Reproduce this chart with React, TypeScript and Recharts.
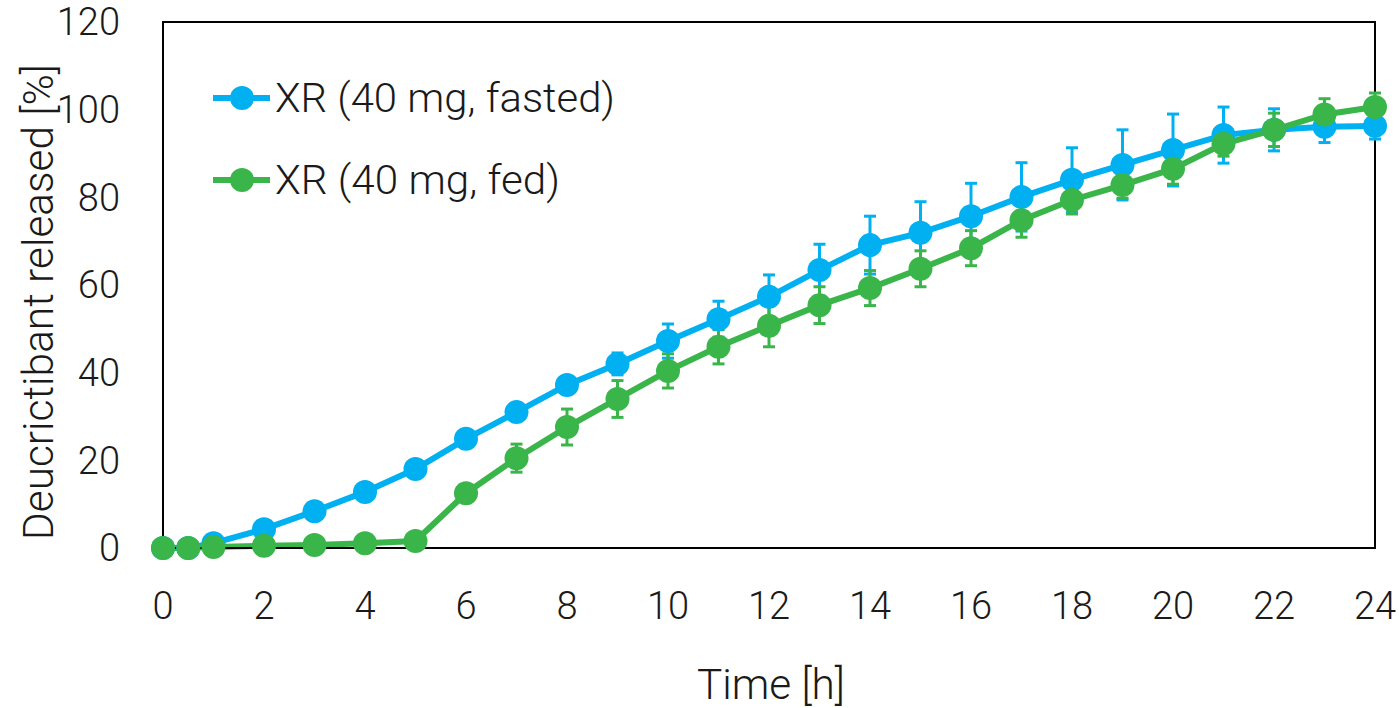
import React from 'react';
import { LineChart, Line, XAxis, YAxis, ErrorBar, Legend, ReferenceArea } from 'recharts';

const times = [0, 0.5, 1, 2, 3, 4, 5, 6, 7, 8, 9, 10, 11, 12, 13, 14, 15, 16, 17, 18, 19, 20, 21, 22, 23, 24];
const fasted = [0, 0, 1.1, 4.3, 8.4, 12.8, 18.0, 24.9, 31.0, 37.2, 42.0, 47.2, 52.2, 57.3, 63.4, 69.1, 71.9, 75.7, 80.1, 84.0, 87.4, 90.8, 94.2, 95.4, 96.1, 96.3];
const fastedErr = [0, 0, 0.3, 0.5, 0.6, 0.8, 1.0, 1.2, 1.4, 1.6, 2.5, 3.9, 4.1, 5.0, 5.9, 6.6, 7.1, 7.5, 7.8, 7.3, 8.0, 8.2, 6.4, 4.8, 3.6, 3.0];
const fed = [0, 0, 0.2, 0.5, 0.7, 1.1, 1.6, 12.5, 20.5, 27.6, 34.0, 40.4, 45.9, 50.7, 55.4, 59.3, 63.7, 68.4, 74.8, 79.4, 82.8, 86.5, 92.2, 95.4, 98.9, 100.6];
const fedErr = [0, 0, 0.1, 0.2, 0.3, 0.4, 0.5, 1.0, 3.2, 4.1, 4.2, 3.9, 3.9, 4.8, 4.2, 4.0, 4.1, 4.0, 3.9, 3.2, 3.0, 3.5, 2.8, 3.8, 3.6, 3.2];
const xTicks = [0, 2, 4, 6, 8, 10, 12, 14, 16, 18, 20, 22, 24];
const yTicks = [0, 20, 40, 60, 80, 100, 120];
const seriesNames = ['XR (40 mg, fasted)', 'XR (40 mg, fed)'];
const colors = ['#00B0F0', '#3AB54A'];

const data = times.map((t, i) => ({
  t,
  fasted: fasted[i],
  fastedErr: fastedErr[i],
  fed: fed[i],
  fedErr: fedErr[i],
}));

const FONT = 'Roboto, "Noto Sans", sans-serif';

const LegendContent = () => (
  <svg width={460} height={170} style={{ display: 'block' }}>
    {seriesNames.map((name, i) => {
      const y = 28 + i * 82;
      return (
        <g key={name}>
          <line x1={3} x2={60} y1={y} y2={y} stroke={colors[i]} strokeWidth={6} />
          <circle cx={32} cy={y} r={12} fill={colors[i]} />
          <text
            x={65}
            y={y}
            dominantBaseline="central"
            fontFamily={FONT}
            fontWeight={300}
            fontSize={40}
            fill="#1a1a1a"
            textLength={i === 0 ? 340 : 285}
            lengthAdjust="spacingAndGlyphs"
          >
            {name}
          </text>
        </g>
      );
    })}
  </svg>
);

export default function App() {
  return (
    <div style={{ position: 'absolute', left: 0, top: 0, width: 1399, height: 708, background: '#fff' }}>
      <LineChart
        width={1399}
        height={708}
        data={data}
        margin={{ top: 22, right: 24, bottom: 0, left: 0 }}
      >
        <XAxis
          dataKey="t"
          type="number"
          domain={[0, 24]}
          ticks={xTicks}
          interval={0}
          height={160}
          axisLine={{ stroke: '#000', strokeWidth: 2 }}
          tickLine={false}
          tickSize={0}
          tickMargin={44}
          tick={{ fontFamily: FONT, fontWeight: 300, fontSize: 38, fill: '#1a1a1a' }}
          label={{
            content: () => (
              <text
                x={771}
                y={684}
                textAnchor="middle"
                dominantBaseline="central"
                fontFamily={FONT}
                fontWeight={300}
                fontSize={42}
                fill="#1a1a1a"
                textLength={148}
                lengthAdjust="spacingAndGlyphs"
              >
                Time [h]
              </text>
            ),
          }}
        />
        <YAxis
          type="number"
          domain={[0, 120]}
          ticks={yTicks}
          interval={0}
          width={163}
          axisLine={{ stroke: '#000', strokeWidth: 2 }}
          tickLine={false}
          tickSize={0}
          tickMargin={43}
          tick={{ fontFamily: FONT, fontWeight: 300, fontSize: 38, fill: '#1a1a1a' }}
          label={{
            content: () => (
              <text
                x={38}
                y={302}
                transform="rotate(-90 38 302)"
                textAnchor="middle"
                dominantBaseline="central"
                fontFamily={FONT}
                fontWeight={300}
                fontSize={42}
                fill="#1a1a1a"
                textLength={476}
                lengthAdjust="spacingAndGlyphs"
              >
                Deucrictibant released [%]
              </text>
            ),
          }}
        />
        <ReferenceArea
          x1={0}
          x2={24}
          y1={0}
          y2={120}
          fill="none"
          fillOpacity={0}
          stroke="#000"
          strokeWidth={2}
          ifOverflow="visible"
        />
        <Legend
          verticalAlign="middle"
          align="center"
          layout="horizontal"
          content={LegendContent}
          wrapperStyle={{ left: 210, top: 70, width: 460, height: 170 }}
        />
        <Line
          name={seriesNames[0]}
          dataKey="fasted"
          stroke={colors[0]}
          strokeWidth={6}
          dot={{ r: 12, fill: colors[0], stroke: colors[0], strokeWidth: 0 }}
          activeDot={false}
          isAnimationActive={false}
        >
          <ErrorBar dataKey="fastedErr" width={6} stroke={colors[0]} strokeWidth={3} direction="y" />
        </Line>
        <Line
          name={seriesNames[1]}
          dataKey="fed"
          stroke={colors[1]}
          strokeWidth={6}
          dot={{ r: 12, fill: colors[1], stroke: colors[1], strokeWidth: 0 }}
          activeDot={false}
          isAnimationActive={false}
        >
          <ErrorBar dataKey="fedErr" width={6} stroke={colors[1]} strokeWidth={3} direction="y" />
        </Line>
      </LineChart>
    </div>
  );
}
